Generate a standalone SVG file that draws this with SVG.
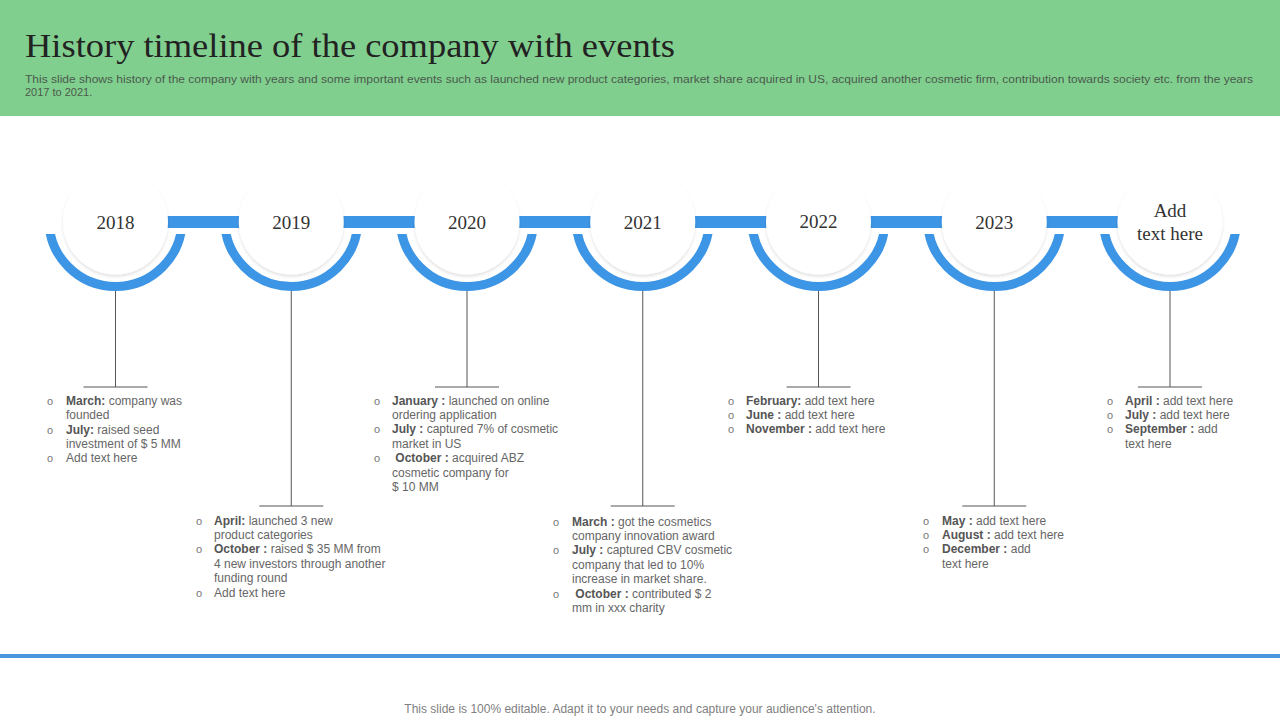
<svg xmlns="http://www.w3.org/2000/svg" width="1280" height="720" viewBox="0 0 1280 720">
<style>
.yr{font-family:"Liberation Serif",serif;font-size:19px;fill:#333;text-anchor:middle}
.t{font-family:"Liberation Sans",Arial,sans-serif;font-size:12px;fill:#666}
.b{font-weight:bold;fill:#555}
.bul{font-family:"Liberation Sans",Arial,sans-serif;font-size:11px;fill:#777}
.ln{stroke:#555;stroke-width:1;fill:none}
.arc{fill:none;stroke:#3D95E5;stroke-width:9}
.wc{fill:#fff}
</style>
<defs>
<clipPath id="low" clipPathUnits="userSpaceOnUse"><rect x="0" y="234" width="1280" height="120"/></clipPath>
<filter id="sh" x="-20%" y="-20%" width="140%" height="150%"><feDropShadow dx="0" dy="2" stdDeviation="1.5" flood-color="#000" flood-opacity="0.12"/></filter>
</defs>
<rect x="0" y="0" width="1280" height="116" fill="#81CF8F"/>
<text x="25" y="57" font-family="Liberation Serif,serif" font-size="34" fill="#222" textLength="650" lengthAdjust="spacingAndGlyphs">History timeline of the company with events</text>
<text x="25" y="83" font-family="Liberation Sans,Arial,sans-serif" font-size="11" fill="#4a5a4c" textLength="1228" lengthAdjust="spacingAndGlyphs">This slide shows history of the company with years and some important events such as launched new product categories, market share acquired in US, acquired another cosmetic firm, contribution towards society etc. from the years</text>
<text x="25" y="96" font-family="Liberation Sans,Arial,sans-serif" font-size="11" fill="#4a5a4c">2017 to 2021.</text>

<g id="connectors">
<rect x="115" y="216" width="1055" height="12" fill="#3D95E5"/>
<path class="ln" d="M115.5 291V387M83.5 387H147.5"/>
<path class="ln" d="M291.25 291V506M259.25 506H323.25"/>
<path class="ln" d="M467 291V387M435 387H499"/>
<path class="ln" d="M642.75 291V506M610.75 506H674.75"/>
<path class="ln" d="M818.5 291V387M786.5 387H850.5"/>
<path class="ln" d="M994.25 291V506M962.25 506H1026.25"/>
<path class="ln" d="M1170 291V387M1138 387H1202"/>
</g>

<g id="n2018"><circle class="arc" cx="115.5" cy="220" r="66.5" clip-path="url(#low)"/><circle class="wc" cx="115.5" cy="222" r="52.5" filter="url(#sh)"/><text class="yr" x="115.5" y="229">2018</text></g>
<g id="n2019"><circle class="arc" cx="291.25" cy="220" r="66.5" clip-path="url(#low)"/><circle class="wc" cx="291.25" cy="222" r="52.5" filter="url(#sh)"/><text class="yr" x="291.25" y="229">2019</text></g>
<g id="n2020"><circle class="arc" cx="467" cy="220" r="66.5" clip-path="url(#low)"/><circle class="wc" cx="467" cy="222" r="52.5" filter="url(#sh)"/><text class="yr" x="467" y="229">2020</text></g>
<g id="n2021"><circle class="arc" cx="642.75" cy="220" r="66.5" clip-path="url(#low)"/><circle class="wc" cx="642.75" cy="222" r="52.5" filter="url(#sh)"/><text class="yr" x="642.75" y="229">2021</text></g>
<g id="n2022"><circle class="arc" cx="818.5" cy="220" r="66.5" clip-path="url(#low)"/><circle class="wc" cx="818.5" cy="222" r="52.5" filter="url(#sh)"/><text class="yr" x="818.5" y="228">2022</text></g>
<g id="n2023"><circle class="arc" cx="994.25" cy="220" r="66.5" clip-path="url(#low)"/><circle class="wc" cx="994.25" cy="222" r="52.5" filter="url(#sh)"/><text class="yr" x="994.25" y="229">2023</text></g>
<g id="nadd"><circle class="arc" cx="1170" cy="220" r="66.5" clip-path="url(#low)"/><circle class="wc" cx="1170" cy="222" r="52.5" filter="url(#sh)"/><text class="yr" x="1170" y="217">Add</text><text class="yr" x="1170" y="240">text here</text></g>

<g id="e2018">
<text class="bul" x="47" y="405">o</text><text class="bul" x="47" y="434">o</text><text class="bul" x="47" y="462">o</text>
<text class="t" x="66" y="405"><tspan class="b">March:</tspan> company was</text>
<text class="t" x="66" y="419">founded</text>
<text class="t" x="66" y="434"><tspan class="b">July:</tspan> raised seed</text>
<text class="t" x="66" y="448">investment of $ 5 MM</text>
<text class="t" x="66" y="462">Add text here</text>
</g>
<g id="e2019">
<text class="bul" x="196" y="525">o</text><text class="bul" x="196" y="553">o</text><text class="bul" x="196" y="597">o</text>
<text class="t" x="214" y="525"><tspan class="b">April:</tspan>  launched 3 new</text>
<text class="t" x="214" y="539">product categories</text>
<text class="t" x="214" y="553"><tspan class="b">October :</tspan> raised $ 35 MM  from</text>
<text class="t" x="214" y="568">4 new investors through another</text>
<text class="t" x="214" y="582">funding round</text>
<text class="t" x="214" y="597">Add text here</text>
</g>
<g id="e2020">
<text class="bul" x="374" y="405">o</text><text class="bul" x="374" y="433">o</text><text class="bul" x="374" y="462">o</text>
<text class="t" x="392" y="405"><tspan class="b">January :</tspan>  launched on online</text>
<text class="t" x="392" y="419">ordering application</text>
<text class="t" x="392" y="433"><tspan class="b">July :</tspan>  captured 7% of cosmetic</text>
<text class="t" x="392" y="448">market in US</text>
<text class="t" x="392" y="462" xml:space="preserve"><tspan class="b"> October :</tspan> acquired ABZ</text>
<text class="t" x="392" y="477">cosmetic company for</text>
<text class="t" x="392" y="491">$ 10 MM</text>
</g>
<g id="e2021">
<text class="bul" x="553" y="526">o</text><text class="bul" x="553" y="554">o</text><text class="bul" x="553" y="598">o</text>
<text class="t" x="572" y="526"><tspan class="b">March :</tspan> got the cosmetics</text>
<text class="t" x="572" y="540">company innovation award</text>
<text class="t" x="572" y="554"><tspan class="b">July :</tspan>  captured CBV  cosmetic</text>
<text class="t" x="572" y="569">company that led to 10%</text>
<text class="t" x="572" y="583">increase in market share.</text>
<text class="t" x="572" y="598" xml:space="preserve"><tspan class="b"> October :</tspan> contributed $ 2</text>
<text class="t" x="572" y="612">mm in xxx  charity</text>
</g>
<g id="e2022">
<text class="bul" x="728" y="405">o</text><text class="bul" x="728" y="419">o</text><text class="bul" x="728" y="433">o</text>
<text class="t" x="746" y="405"><tspan class="b">February:</tspan>  add text here</text>
<text class="t" x="746" y="419"><tspan class="b">June :</tspan> add text here</text>
<text class="t" x="746" y="433"><tspan class="b">November :</tspan> add text here</text>
</g>
<g id="e2023">
<text class="bul" x="923" y="525">o</text><text class="bul" x="923" y="539">o</text><text class="bul" x="923" y="553">o</text>
<text class="t" x="942" y="525"><tspan class="b">May :</tspan> add text here</text>
<text class="t" x="942" y="539"><tspan class="b">August :</tspan> add text here</text>
<text class="t" x="942" y="553"><tspan class="b">December :</tspan> add</text>
<text class="t" x="942" y="568">text here</text>
</g>
<g id="eadd">
<text class="bul" x="1107" y="405">o</text><text class="bul" x="1107" y="419">o</text><text class="bul" x="1107" y="433">o</text>
<text class="t" x="1125" y="405"><tspan class="b">April :</tspan> add text here</text>
<text class="t" x="1125" y="419"><tspan class="b">July :</tspan> add text here</text>
<text class="t" x="1125" y="433"><tspan class="b">September :</tspan> add</text>
<text class="t" x="1125" y="448">text here</text>
</g>

<rect x="0" y="654" width="1280" height="4" fill="#4A97E0"/>
<text x="640" y="713" font-family="Liberation Sans,Arial,sans-serif" font-size="12" fill="#808080" text-anchor="middle">This slide is 100% editable. Adapt it to your needs and capture your audience's attention.</text>
</svg>
